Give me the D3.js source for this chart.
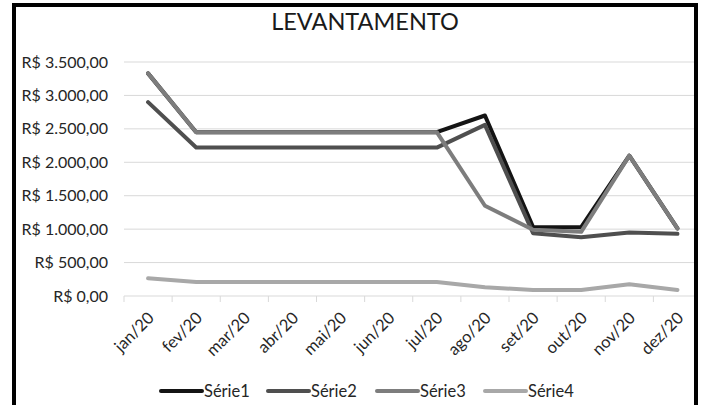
<!DOCTYPE html>
<html>
<head>
<meta charset="utf-8">
<script src="https://cdn.jsdelivr.net/npm/d3@7"></script>
<style>
  body { margin: 0; background: #fff; }
  svg { display: block; font-family: Lato, "Open Sans", sans-serif; }
</style>
</head>
<body>
<svg id="chart" width="706" height="405"></svg>
<script>
// values
var months = ['jan/20', 'fev/20', 'mar/20', 'abr/20', 'mai/20', 'jun/20',
              'jul/20', 'ago/20', 'set/20', 'out/20', 'nov/20', 'dez/20'];
var serie1 = [3330, 2450, 2450, 2450, 2450, 2450, 2450, 2700, 1030, 1030, 2100, 1010];
var serie2 = [2900, 2220, 2220, 2220, 2220, 2220, 2220, 2560, 940, 880, 950, 930];
var serie3 = [3330, 2450, 2450, 2450, 2450, 2450, 2450, 1350, 990, 960, 2100, 1010];
var serie4 = [265, 210, 210, 210, 210, 210, 210, 130, 90, 90, 175, 90];
var seriesNames = ['Série1', 'Série2', 'Série3', 'Série4'];
var yTicks = [0, 500, 1000, 1500, 2000, 2500, 3000, 3500];

var colors = ['#141414', '#4f4f4f', '#7d7d7d', '#a8a8a8'];
var allSeries = [serie1, serie2, serie3, serie4];

var brl = d3.formatLocale({decimal: ',', thousands: '.', grouping: [3], currency: ['R$ ', '']});
var fmt = brl.format('$,.2f');

var svg = d3.select('#chart');

var x = d3.scaleBand()
    .domain(months)
    .range([124, 701.5])
    .padding(0);

var y = d3.scaleLinear()
    .domain([0, 3500])
    .range([296, 62]);

// gridlines
svg.append('g')
    .selectAll('line')
    .data(yTicks.filter(function(d) { return d > 0; }))
  .enter().append('line')
    .attr('x1', 124)
    .attr('x2', 697)
    .attr('y1', function(d) { return y(d); })
    .attr('y2', function(d) { return y(d); })
    .attr('stroke', '#d9d9d9')
    .attr('stroke-width', 1);

// y axis labels
svg.append('g')
    .selectAll('text')
    .data(yTicks)
  .enter().append('text')
    .attr('x', 108)
    .attr('y', function(d) { return y(d); })
    .attr('dy', '0.35em')
    .attr('text-anchor', 'end')
    .attr('font-size', 16)
    .attr('fill', '#262626')
    .text(function(d) { return fmt(d); });

// x axis line + ticks between categories
var xa = svg.append('g');
xa.append('line')
    .attr('x1', 124).attr('x2', 697)
    .attr('y1', 296).attr('y2', 296)
    .attr('stroke', '#d9d9d9');
xa.selectAll('.tk')
    .data(months)
  .enter().append('line')
    .attr('class', 'tk')
    .attr('x1', function(d) { return x(d); })
    .attr('x2', function(d) { return x(d); })
    .attr('y1', 296).attr('y2', 302)
    .attr('stroke', '#d9d9d9');
xa.selectAll('text')
    .data(months)
  .enter().append('text')
    .attr('transform', function(d) {
        return 'translate(' + (x(d) + x.bandwidth() / 2 + 7) + ',319) rotate(-45)';
    })
    .attr('text-anchor', 'end')
    .attr('font-size', 16.5)
    .attr('fill', '#262626')
    .text(function(d) { return d; });

// lines
var line = d3.line()
    .x(function(d, i) { return x(months[i]) + x.bandwidth() / 2; })
    .y(function(d) { return y(d); });

svg.append('g')
    .selectAll('path')
    .data(allSeries)
  .enter().append('path')
    .attr('d', line)
    .attr('fill', 'none')
    .attr('stroke', function(d, i) { return colors[i]; })
    .attr('stroke-width', 4)
    .attr('stroke-linejoin', 'round')
    .attr('stroke-linecap', 'round');

// title
svg.append('text')
    .attr('x', 365)
    .attr('y', 30)
    .attr('text-anchor', 'middle')
    .attr('font-size', 23.5)
    .attr('fill', '#1a1a1a')
    .text('LEVANTAMENTO');

// legend
var legX = [161, 268, 377, 485];
var leg = svg.append('g')
    .selectAll('g')
    .data(seriesNames)
  .enter().append('g')
    .attr('transform', function(d, i) { return 'translate(' + legX[i] + ',391)'; });
leg.append('line')
    .attr('x1', 0).attr('x2', 41)
    .attr('stroke', function(d, i) { return colors[i]; })
    .attr('stroke-width', 4)
    .attr('stroke-linecap', 'round');
leg.append('text')
    .attr('x', 43)
    .attr('dy', '0.35em')
    .attr('font-size', 16.5)
    .attr('fill', '#262626')
    .text(function(d) { return d; });

// chart border
svg.append('rect')
    .attr('x', 14)
    .attr('y', 5)
    .attr('width', 682)
    .attr('height', 430)
    .attr('fill', 'none')
    .attr('stroke', '#000')
    .attr('stroke-width', 4);
</script>
</body>
</html>
